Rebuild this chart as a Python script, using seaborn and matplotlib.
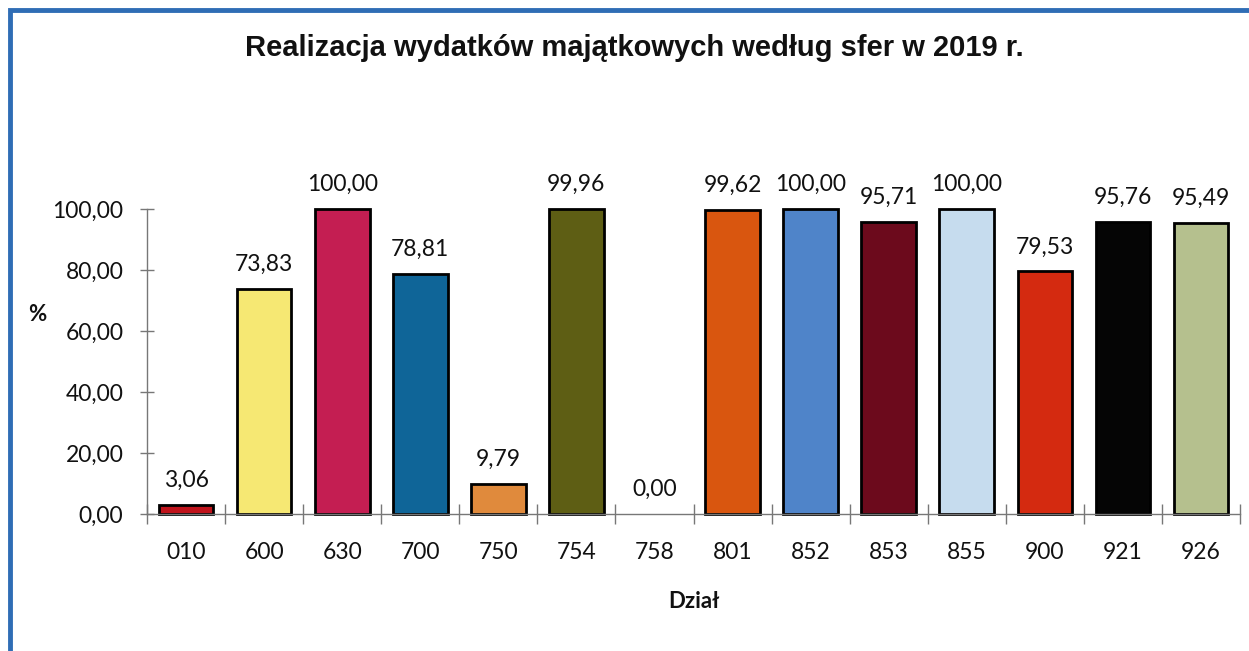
import numpy as np
import pandas as pd
import seaborn as sns
from matplotlib import pyplot as plt
from matplotlib.patches import Rectangle

# dane z wykresu
dzialy = ['010', '600', '630', '700', '750', '754', '758', '801', '852', '853', '855', '900', '921', '926']
realizacja = [3.06, 73.83, 100.00, 78.81, 9.79, 99.96, 0.00, 99.62, 100.00, 95.71, 100.00, 79.53, 95.76, 95.49]
kolory = ['#c0141c', '#f6e873', '#c41e52', '#0f6598', '#e08a3c', '#5e5e14', '#ffffff',
          '#d9560f', '#4f84c9', '#6c0a1c', '#c6dcee', '#d42a10', '#050505', '#b5c08e']

df = pd.DataFrame({'dzial': dzialy, 'proc': realizacja})

sns.set_style('white')
plt.rcParams['font.family'] = ['Lato', 'DejaVu Sans']

fig = plt.figure(figsize=(12.49, 6.51), dpi=100)
ax = fig.add_axes([0.1177, 0.2104, 0.8751, 0.4686])

sns.barplot(data=df, x='dzial', y='proc', hue='dzial', palette=kolory, legend=False,
            width=0.7, saturation=1, edgecolor='black', linewidth=2, ax=ax)

for bar in ax.patches:
    bar.set_clip_on(False)
    if bar.get_height() == 0:
        bar.set_linewidth(0)

for c in ax.containers:
    ax.bar_label(c, labels=[f'{v:.2f}'.replace('.', ',') for v in c.datavalues],
                 padding=10, fontsize=16.5, color='#111111')

ax.set_xlim(-0.5, 13.5)
ax.set_ylim(0, 100)
ax.set_yticks(np.arange(0, 101, 20))
ax.set_yticklabels([f'{v:.2f}'.replace('.', ',') for v in np.arange(0, 101, 20)], fontsize=16.5)
ax.tick_params(axis='y', left=True, direction='inout', length=10, width=1, color='#777777',
               labelcolor='#111111', pad=12)
ax.tick_params(axis='x', which='major', bottom=True, length=0, labelsize=16.5,
               labelcolor='#111111', pad=20)
ax.set_xticks(np.arange(-0.5, 14, 1), minor=True)
ax.tick_params(axis='x', which='minor', bottom=True, direction='inout', length=14, width=1, color='#777777')

for s in ['top', 'right']:
    ax.spines[s].set_visible(False)
for s in ['left', 'bottom']:
    ax.spines[s].set_color('#777777')
    ax.spines[s].set_linewidth(1)

ax.set_xlabel('Dział', fontsize=16, fontweight='bold', color='#111111', labelpad=20)
ax.set_ylabel('%', fontsize=16, fontweight='bold', color='#111111', rotation=0)
ax.yaxis.set_label_coords(-0.1, 0.62)

fig.text(0.508, 0.926, 'Realizacja wydatków majątkowych według sfer w 2019 r.',
         ha='center', va='center', fontsize=21, fontweight='bold', color='#111111',
         family='Liberation Sans')

# ramka wykresu
fig.patches.append(Rectangle((10 / 1249, -0.05), 1.1, 0.05 + 641 / 651, transform=fig.transFigure,
                             fill=False, edgecolor='#2f6db5', linewidth=3.5))

fig.savefig('out.png', dpi=100)
